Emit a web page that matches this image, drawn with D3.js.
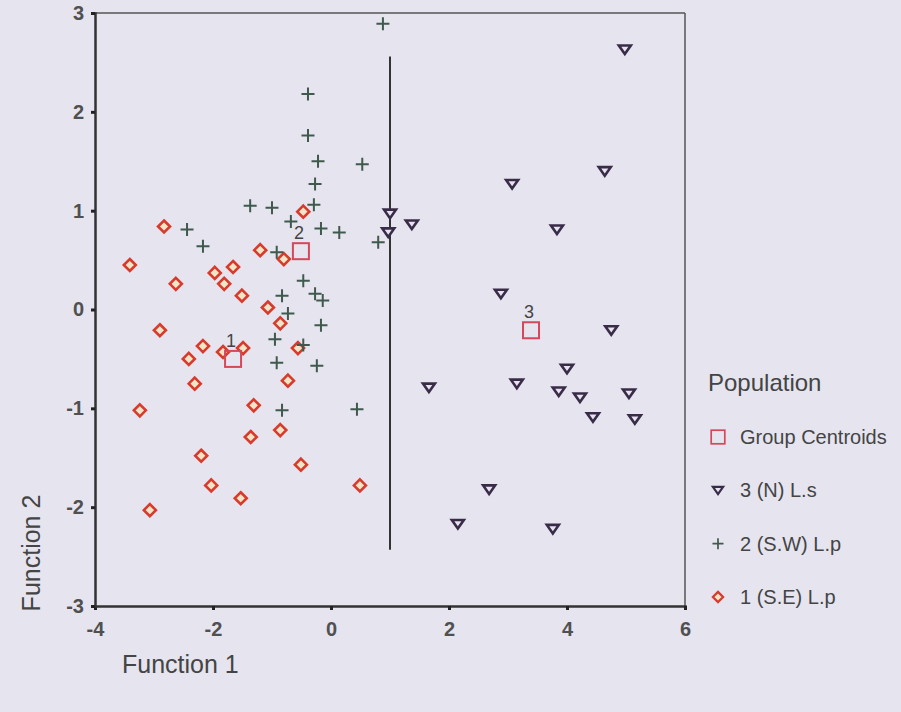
<!DOCTYPE html>
<html>
<head>
<meta charset="utf-8">
<script src="https://cdn.jsdelivr.net/npm/d3@7"></script>
<style>
  body { margin: 0; background: #e5e4ef; }
  svg { display: block; font-family: "Liberation Sans", Arial, sans-serif; }
</style>
</head>
<body>
<div id="chart"></div>
<script>
// Group 1 (S.E) L.p - diamonds
const group1 = [
  [-2.83, 0.84], [-3.41, 0.45], [-2.63, 0.26], [-1.97, 0.37], [-1.81, 0.26],
  [-1.66, 0.43], [-1.51, 0.14], [-1.20, 0.60], [-0.80, 0.51], [-0.47, 0.99],
  [-1.07, 0.02], [-0.86, -0.14], [-2.90, -0.21], [-2.17, -0.37], [-2.41, -0.50],
  [-1.83, -0.43], [-1.49, -0.39], [-0.56, -0.39], [-2.31, -0.75], [-0.73, -0.72],
  [-3.24, -1.02], [-1.31, -0.97], [-0.86, -1.22], [-1.36, -1.29], [-2.20, -1.48],
  [-2.03, -1.78], [-1.53, -1.91], [-0.51, -1.57], [0.49, -1.78], [-3.07, -2.03]
];
// Group 2 (S.W) L.p - plus signs
const group2 = [
  [0.88, 2.89], [-0.39, 2.18], [-0.39, 1.76], [-0.22, 1.50], [0.53, 1.47],
  [-0.27, 1.27], [-1.37, 1.05], [-1.00, 1.03], [-0.29, 1.06], [-2.44, 0.81],
  [-2.17, 0.64], [-0.68, 0.89], [-0.17, 0.82], [0.14, 0.78], [0.80, 0.68],
  [-0.92, 0.58], [-0.47, 0.29], [-0.83, 0.14], [-0.27, 0.16], [-0.14, 0.09],
  [-0.73, -0.04], [-0.17, -0.16], [-0.95, -0.30], [-0.47, -0.36], [-0.92, -0.54],
  [-0.24, -0.57], [-0.83, -1.02], [0.44, -1.01]
];
// Group 3 (N) L.s - triangles
const group3 = [
  [4.98, 2.63], [4.64, 1.40], [3.07, 1.27], [3.83, 0.81], [1.37, 0.86],
  [1.00, 0.97], [0.97, 0.78], [2.88, 0.16], [4.75, -0.21], [4.00, -0.60],
  [1.66, -0.79], [3.15, -0.75], [3.86, -0.83], [4.22, -0.89], [5.05, -0.85],
  [4.44, -1.09], [5.15, -1.11], [2.68, -1.82], [2.15, -2.17], [3.76, -2.22]
];
const centroids = [
  { x: -1.66, y: -0.50, label: "1" },
  { x: -0.51, y: 0.59, label: "2" },
  { x: 3.39, y: -0.21, label: "3" }
];
// territorial boundary line
const boundary = [[1.0, 2.56], [1.0, -2.43]];

const xTicks = [-4, -2, 0, 2, 4, 6];
const yTicks = [-3, -2, -1, 0, 1, 2, 3];
const legendItems = ["Group Centroids", "3 (N) L.s", "2 (S.W) L.p", "1 (S.E) L.p"];

const width = 901, height = 712;
const margin = { left: 95, top: 13, right: 216, bottom: 106 };

const red = "#d83a2c", green = "#3f5a4c", purple = "#3a2c48", pink = "#d4485a";

const svg = d3.select("#chart").append("svg")
  .attr("width", width).attr("height", height);

svg.append("rect").attr("width", width).attr("height", height).attr("fill", "#e5e4ef");

const x = d3.scaleLinear().domain([-4, 6]).range([margin.left, width - margin.right]);
const y = d3.scaleLinear().domain([-3, 3]).range([height - margin.bottom, margin.top]);

// frame top + right
svg.append("line")
  .attr("x1", x(-4)).attr("x2", x(6)).attr("y1", y(3)).attr("y2", y(3))
  .attr("stroke", "#555").attr("stroke-width", 1.5);
svg.append("line")
  .attr("x1", x(6)).attr("x2", x(6)).attr("y1", y(3)).attr("y2", y(-3))
  .attr("stroke", "#555").attr("stroke-width", 1.5);

// axes
const xAxis = svg.append("g")
  .attr("transform", `translate(0, ${y(-3)})`)
  .call(d3.axisBottom(x).tickValues(xTicks).tickSize(4).tickPadding(9).tickFormat(d3.format("d")));
const yAxis = svg.append("g")
  .attr("transform", `translate(${x(-4)}, 0)`)
  .call(d3.axisLeft(y).tickValues(yTicks).tickSize(4).tickPadding(7).tickFormat(d3.format("d")));

[xAxis, yAxis].forEach(function(a) {
  a.select(".domain").attr("stroke", "#333").attr("stroke-width", 2.5);
  a.selectAll(".tick line").attr("stroke", "#222").attr("stroke-width", 3);
  a.selectAll(".tick text")
    .attr("fill", "#505050").style("font-size", "20px").style("font-weight", "bold")
    .text(d => d < 0 ? "-" + Math.abs(d) : d);
});
xAxis.selectAll(".tick text").attr("dy", "0.85em");

// axis titles
svg.append("text")
  .attr("x", 122).attr("y", 673)
  .attr("fill", "#444").style("font-size", "25px")
  .text("Function 1");
svg.append("text")
  .attr("transform", `translate(40, 553) rotate(-90)`)
  .attr("text-anchor", "middle")
  .attr("fill", "#444").style("font-size", "25px")
  .text("Function 2");

// boundary line
svg.append("line")
  .attr("x1", x(boundary[0][0])).attr("y1", y(boundary[0][1]))
  .attr("x2", x(boundary[1][0])).attr("y2", y(boundary[1][1]))
  .attr("stroke", "#333").attr("stroke-width", 2);

// symbols
function diamond(g) {
  g.append("path").attr("d", "M0,-6 L6,0 L0,6 L-6,0 Z")
    .attr("fill", "#efe6c8").attr("stroke", red).attr("stroke-width", 2.6);
}
function plus(g) {
  g.append("path").attr("d", "M-6.5,0 H6.5 M0,-6.5 V6.5")
    .attr("fill", "none").attr("stroke", green).attr("stroke-width", 2);
}
function triangle(g) {
  g.append("path").attr("d", "M-6,-4 H6 L0,4.5 Z")
    .attr("fill", "#e5e4ef").attr("stroke", purple).attr("stroke-width", 2.6)
    .attr("stroke-linejoin", "miter");
}
function square(g) {
  g.append("rect").attr("x", -8).attr("y", -8).attr("width", 16).attr("height", 16)
    .attr("fill", "none").attr("stroke", pink).attr("stroke-width", 2);
}

function drawGroup(data, shape) {
  svg.append("g").selectAll("g")
    .data(data).enter().append("g")
    .attr("transform", d => `translate(${x(d[0])}, ${y(d[1])})`)
    .each(function() { shape(d3.select(this)); });
}
drawGroup(group1, diamond);
drawGroup(group2, plus);
drawGroup(group3, triangle);

const cg = svg.append("g").selectAll("g")
  .data(centroids).enter().append("g")
  .attr("transform", d => `translate(${x(d.x)}, ${y(d.y)})`);
cg.each(function() { square(d3.select(this)); });
cg.append("text")
  .attr("x", -2).attr("y", -12).attr("text-anchor", "middle")
  .attr("fill", "#444").style("font-size", "18px")
  .text(d => d.label);

// legend
const legend = svg.append("g").attr("transform", "translate(708, 0)");
legend.append("text").attr("x", 0).attr("y", 391)
  .attr("fill", "#444").style("font-size", "24px").text("Population");
const shapes = [square, triangle, plus, diamond];
const ly = d3.scalePoint().domain(legendItems).range([437, 597]);
legendItems.forEach(function(name, i) {
  const item = legend.append("g").attr("transform", `translate(10, ${ly(name)})`);
  const s = item.append("g").attr("transform", "scale(0.85)");
  shapes[i](s);
  item.append("text").attr("x", 22).attr("y", 7)
    .attr("fill", "#444").style("font-size", "20px").text(name);
});
</script>
</body>
</html>
